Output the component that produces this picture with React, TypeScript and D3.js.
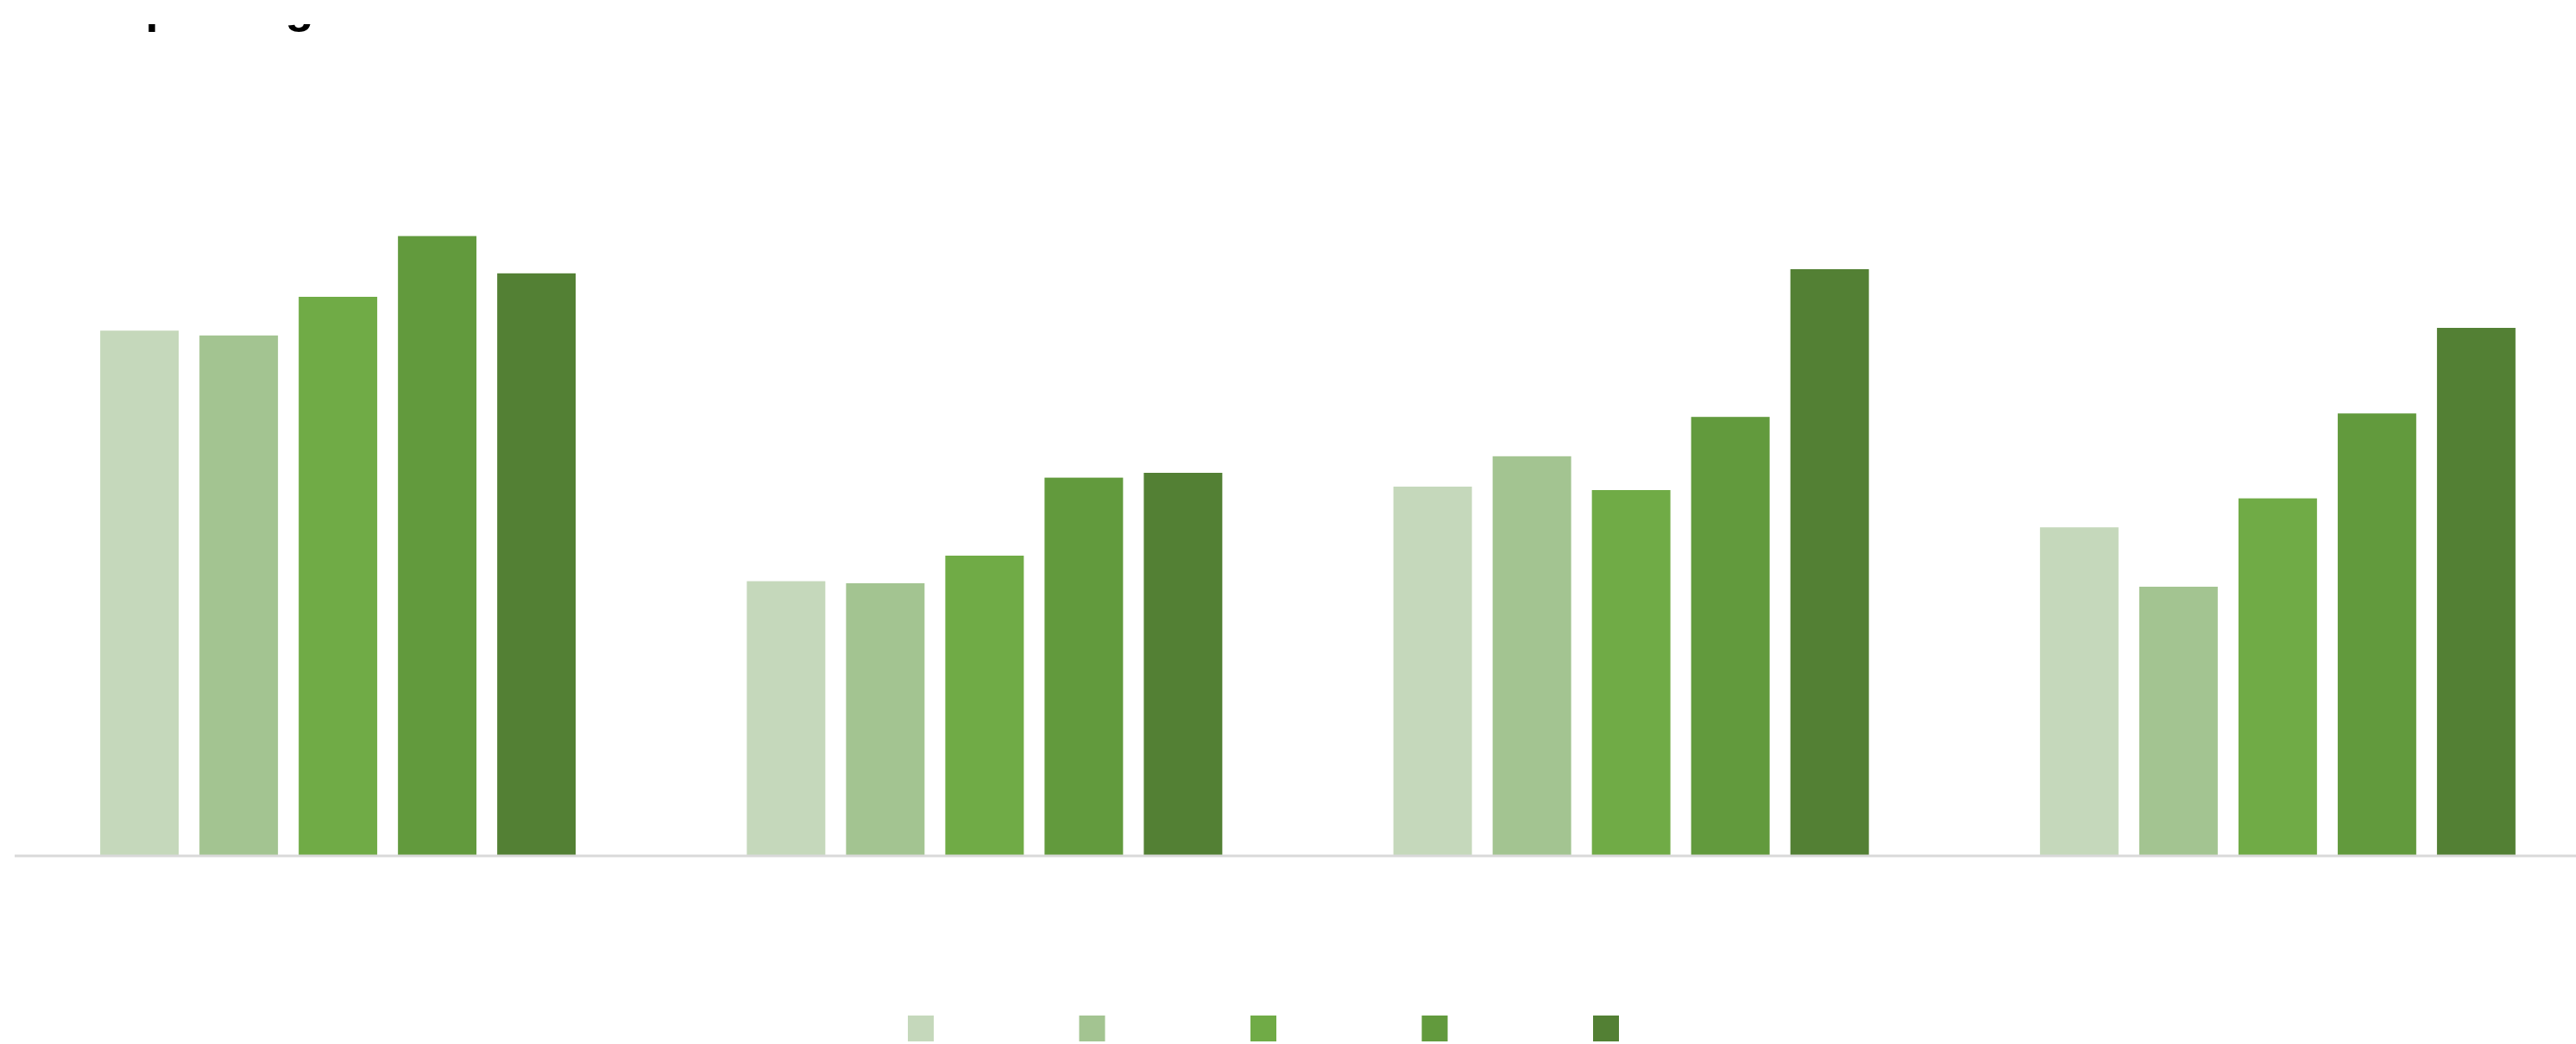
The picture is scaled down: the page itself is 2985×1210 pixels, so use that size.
import React from "react";
import * as d3 from "d3";

const categories = ["Q1", "Q2", "Q3", "Q4"];
const seriesNames = ["2019", "2020", "2021", "2022", "2023"];
const s2019 = [76.1, 39.8, 53.5, 47.6];
const s2020 = [75.4, 39.5, 57.9, 39.0];
const s2021 = [81.0, 43.5, 53.0, 51.8];
const s2022 = [89.8, 54.8, 63.6, 64.1];
const s2023 = [84.4, 55.5, 85.0, 76.5];
const seriesValues = [s2019, s2020, s2021, s2022, s2023];
const colors = ["#c5d8bb", "#a3c491", "#70ab46", "#629a3d", "#538034"];
const titleText = "Spending";

const W = 2985;
const H = 1210;

export default function App() {
  const baseY = 992;
  const x0 = d3.scaleBand<string>().domain(categories).range([17, 3014]).paddingInner(0).paddingOuter(0);
  const x1 = d3
    .scaleBand<string>()
    .domain(seriesNames)
    .range([0, x0.bandwidth()])
    .paddingInner(0.209)
    .paddingOuter(0.862);
  const y = d3.scaleLinear().domain([0, 100]).range([baseY, baseY - 800]);

  const legendX = d3.scalePoint<string>().domain(seriesNames).range([1052, 1846]);

  return (
    <svg
      width={W}
      height={H}
      style={{ position: "absolute", left: 0, top: 0, display: "block", background: "#fff" }}
    >
      <rect x={0} y={0} width={W} height={H} fill="#ffffff" />
      <text
        x={135}
        y={25.5}
        fontFamily="Liberation Sans, Arial, sans-serif"
        fontWeight="bold"
        fontSize={54}
        letterSpacing={-2.5}
        fill="#000"
      >
        {titleText}
      </text>
      <rect x={0} y={0} width={W} height={28} fill="#ffffff" />
      {categories.map((c, ci) => (
        <g key={c} transform={`translate(${x0(c)},0)`}>
          {seriesNames.map((s, si) => {
            const v = seriesValues[si][ci];
            return (
              <rect
                key={s}
                x={x1(s)}
                y={y(v)}
                width={x1.bandwidth()}
                height={baseY - y(v)}
                fill={colors[si]}
              />
            );
          })}
        </g>
      ))}
      <line x1={17} x2={W} y1={baseY} y2={baseY} stroke="#d9d9d9" strokeWidth={3} />
      {seriesNames.map((s, si) => (
        <rect key={s} x={legendX(s)} y={1177} width={30} height={30} fill={colors[si]} />
      ))}
    </svg>
  );
}
